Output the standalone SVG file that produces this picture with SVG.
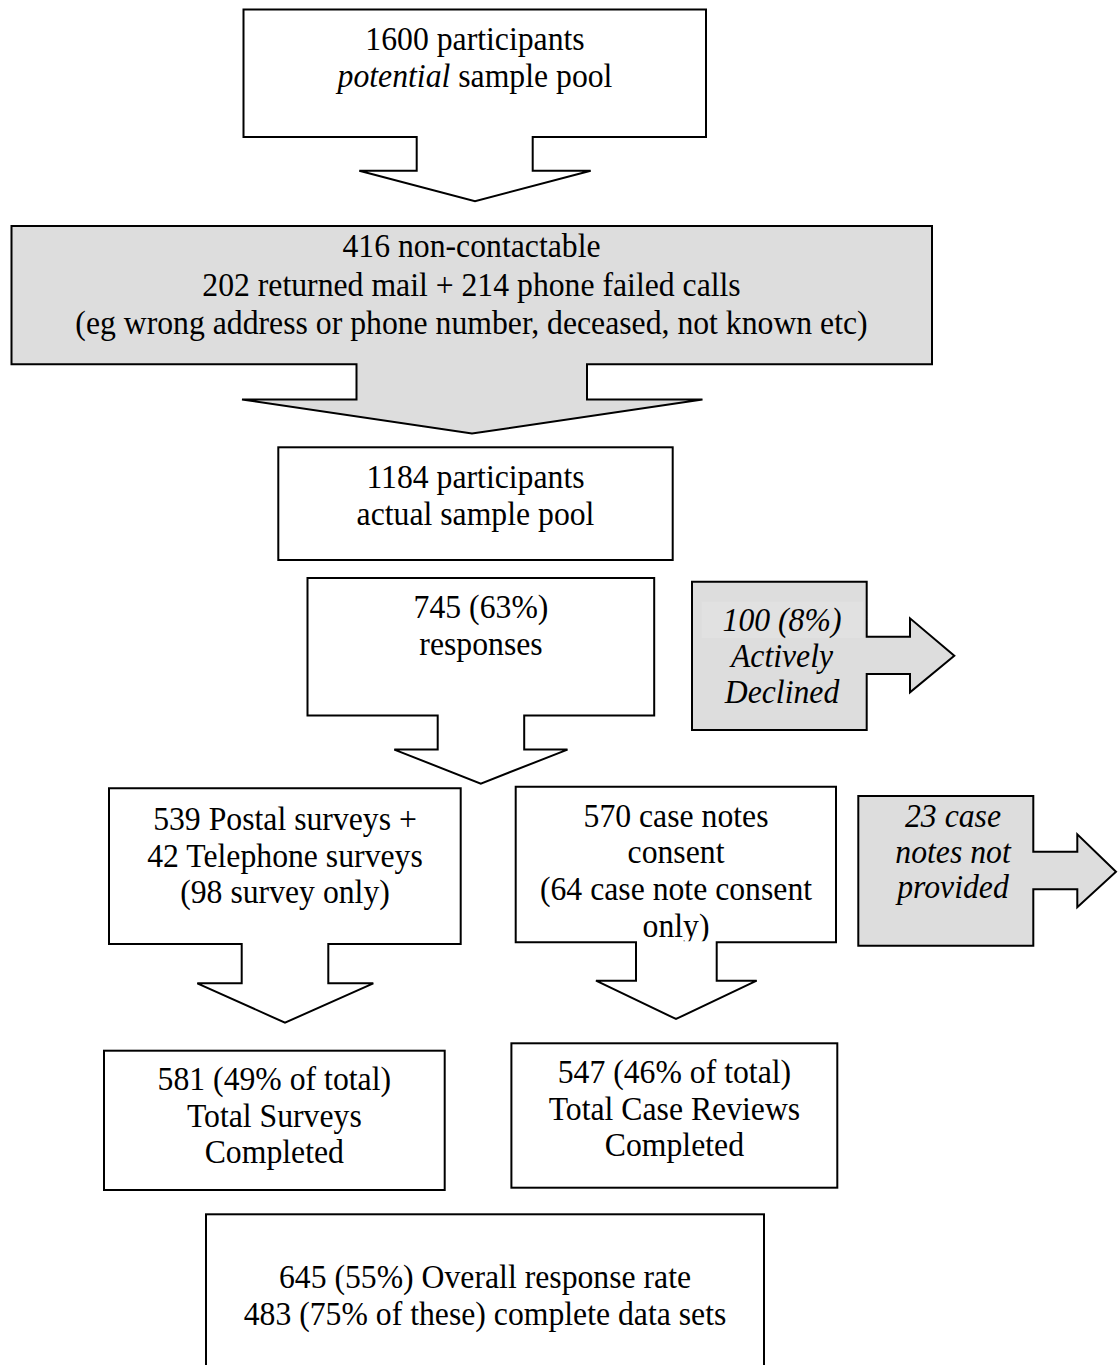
<svg xmlns="http://www.w3.org/2000/svg" width="1118" height="1365" viewBox="0 0 1118 1365">
  <style>
    .shape { fill: #ffffff; stroke: #000000; stroke-width: 2; stroke-linejoin: miter; }
    .grey { fill: #dddddd; }
    .t { font-family: "Liberation Serif", "Times New Roman", serif; font-size: 34.5px; text-anchor: middle; fill: #000000; }
    .i { font-style: italic; }
  </style>
  <defs>
    <clipPath id="clip-consent">
      <rect x="515.7" y="786.7" width="320.3" height="154.6"/>
    </clipPath>
  </defs>

  <rect x="0" y="0" width="1118" height="1365" fill="#ffffff"/>

  <!-- Each node is a callout shape: a box with its own arrow -->
  <g id="connectors">
    <!-- the arrows are part of each callout outline below -->
  </g>

  <!-- text is set in a slightly narrowed serif: translate to the line centre, squeeze horizontally -->
  <g id="node-potential-pool">
    <path class="shape" d="M243.5,9.5 H706 V137 H532.7 V170.7 H590.7 L475,201.3 L359.3,170.7 H416.7 V137 H243.5 Z"/>
    <text class="t" transform="translate(475 49.5) scale(0.92 1)">1600 participants</text>
    <text class="t" transform="translate(475 86.5) scale(0.92 1)"><tspan class="i">potential</tspan> sample pool</text>
  </g>

  <g id="node-non-contactable">
    <path class="shape grey" d="M11.5,226 H932 V364.3 H587 V399.5 H702.5 L472,433.5 L242,399.5 H356.5 V364.3 H11.5 Z"/>
    <text class="t" transform="translate(471.5 257.3) scale(0.92 1)">416 non-contactable</text>
    <text class="t" transform="translate(471.5 295.7) scale(0.92 1)">202 returned mail + 214 phone failed calls</text>
    <text class="t" transform="translate(471.5 334) scale(0.92 1)">(eg wrong address or phone number, deceased, not known etc)</text>
  </g>

  <g id="node-actual-pool">
    <rect class="shape" x="278.3" y="447.3" width="394.4" height="112.7"/>
    <text class="t" transform="translate(475.5 488.3) scale(0.92 1)">1184 participants</text>
    <text class="t" transform="translate(475.5 525) scale(0.92 1)">actual sample pool</text>
  </g>

  <g id="node-responses">
    <path class="shape" d="M307.5,578 H654.2 V715.4 H524.2 V749.6 H567.5 L480.8,783.6 L394.3,749.6 H437.7 V715.4 H307.5 Z"/>
    <text class="t" transform="translate(481 618) scale(0.92 1)">745 (63%)</text>
    <text class="t" transform="translate(481 655) scale(0.92 1)">responses</text>
  </g>

  <g id="node-declined">
    <path class="shape grey" d="M692,581.7 H866.7 V636.7 H910 V618.3 L954.3,655.7 L910,692.3 V674 H866.7 V730 H692 Z"/>
    <rect x="701.7" y="601.7" width="161.6" height="36.3" fill="#e1e1e1"/>
    <text class="t i" transform="translate(782 630.7) scale(0.92 1)">100 (8%)</text>
    <text class="t i" transform="translate(782 667.3) scale(0.92 1)">Actively</text>
    <text class="t i" transform="translate(782 703.3) scale(0.92 1)">Declined</text>
  </g>

  <g id="node-surveys">
    <path class="shape" d="M109,788.3 H460.7 V944 H328.3 V983.3 H373.3 L285,1022.7 L197.3,983.3 H241.7 V944 H109 Z"/>
    <text class="t" transform="translate(285 830) scale(0.92 1)">539 Postal surveys +</text>
    <text class="t" transform="translate(285 866.5) scale(0.92 1)">42 Telephone surveys</text>
    <text class="t" transform="translate(285 903) scale(0.92 1)">(98 survey only)</text>
  </g>

  <g id="node-case-notes">
    <path class="shape" d="M515.7,786.7 H836 V942.3 H716.7 V980.7 H756.7 L676,1019 L596,980.7 H636 V942.3 H515.7 Z"/>
    <g clip-path="url(#clip-consent)">
      <text class="t" transform="translate(676 826.7) scale(0.92 1)">570 case notes</text>
      <text class="t" transform="translate(676 863.3) scale(0.92 1)">consent</text>
      <text class="t" transform="translate(676 900) scale(0.92 1)">(64 case note consent</text>
      <text class="t" transform="translate(676 936.7) scale(0.92 1)">only)</text>
    </g>
  </g>

  <g id="node-notes-missing">
    <path class="shape grey" d="M858.3,796 H1033.3 V851.7 H1077.3 V834.3 L1116,871.7 L1077.3,907.3 V889.3 H1033.3 V945.7 H858.3 Z"/>
    <text class="t i" transform="translate(953 826.7) scale(0.92 1)">23 case</text>
    <text class="t i" transform="translate(953 862.7) scale(0.92 1)">notes not</text>
    <text class="t i" transform="translate(953 898.3) scale(0.92 1)">provided</text>
  </g>

  <g id="node-surveys-total">
    <rect class="shape" x="104" y="1050.7" width="340.7" height="139.3"/>
    <text class="t" transform="translate(274.3 1090) scale(0.92 1)">581 (49% of total)</text>
    <text class="t" transform="translate(274.3 1127.3) scale(0.92 1)">Total Surveys</text>
    <text class="t" transform="translate(274.3 1162.7) scale(0.92 1)">Completed</text>
  </g>

  <g id="node-reviews-total">
    <rect class="shape" x="511.4" y="1043.3" width="325.9" height="144.4"/>
    <text class="t" transform="translate(674.4 1083.3) scale(0.92 1)">547 (46% of total)</text>
    <text class="t" transform="translate(674.4 1120) scale(0.92 1)">Total Case Reviews</text>
    <text class="t" transform="translate(674.4 1155.5) scale(0.92 1)">Completed</text>
  </g>

  <g id="node-overall">
    <rect class="shape" x="206" y="1214.3" width="558" height="200"/>
    <text class="t" transform="translate(485 1288.3) scale(0.92 1)">645 (55%) Overall response rate</text>
    <text class="t" transform="translate(485 1325) scale(0.92 1)">483 (75% of these) complete data sets</text>
  </g>
</svg>
